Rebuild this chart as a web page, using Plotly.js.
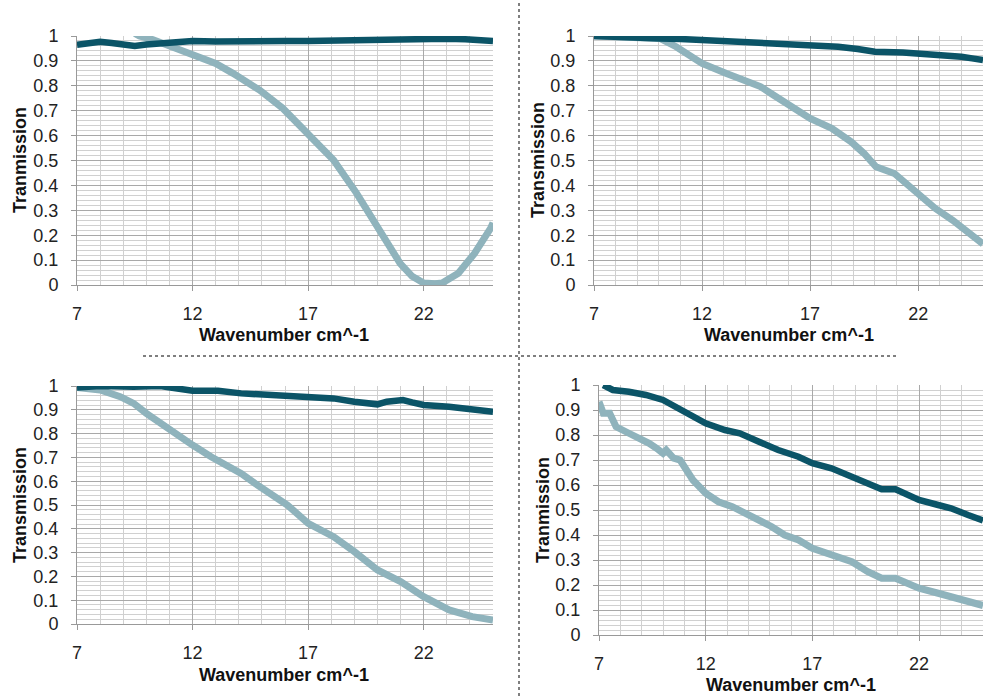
<!DOCTYPE html>
<html><head><meta charset="utf-8">
<script src="https://cdn.plot.ly/plotly-3.0.1.min.js"></script>
<style>html,body{margin:0;padding:0;background:#fff}#chart{width:983px;height:696px}</style>
</head><body><div id="chart"></div>
<script>
// Top-left panel
const tlDarkX = [7, 7.5, 8, 8.5, 9, 9.5, 10, 10.6, 11, 12, 13, 13.75, 15, 16, 17, 18, 19, 20, 21, 22, 22.4, 23, 23.8, 24.5, 25];
const tlDarkY = [0.965, 0.972, 0.977, 0.972, 0.965, 0.96, 0.966, 0.97, 0.972, 0.98, 0.978, 0.977, 0.98, 0.98, 0.98, 0.982, 0.98, 0.984, 0.99, 0.99, 0.99, 0.989, 0.987, 0.982, 0.98];
const tlLightX = [9.5, 9.7, 10.3, 10.9, 12, 13, 13.75, 14.9, 15.9, 17, 18.1, 19.1, 19.97, 20.98, 21.5, 22, 22.5, 22.8, 23.5, 24.2, 24.9, 25];
const tlLightY = [1.01, 1.0, 0.985, 0.964, 0.924, 0.89, 0.85, 0.783, 0.71, 0.602, 0.502, 0.368, 0.234, 0.087, 0.035, 0.008, 0.005, 0.008, 0.047, 0.127, 0.228, 0.25];
// Top-right panel
const trDarkX = [7, 8, 9, 10.05, 11, 12, 13, 14.3, 15.2, 15.9, 17, 18.3, 19.2, 20, 21.3, 22, 22.7, 23.3, 24, 24.5, 25];
const trDarkY = [1.0, 0.995, 0.99, 0.99, 0.988, 0.984, 0.98, 0.977, 0.973, 0.968, 0.96, 0.957, 0.948, 0.937, 0.934, 0.93, 0.927, 0.924, 0.917, 0.91, 0.903];
const trLightX = [7, 8, 9, 10.05, 10.8, 11.3, 12, 13.1, 14, 14.7, 15.3, 16.2, 17, 18, 18.9, 19.5, 20.05, 20.9, 22, 22.8, 23.6, 25];
const trLightY = [1.0, 0.995, 0.99, 0.99, 0.957, 0.93, 0.89, 0.85, 0.823, 0.797, 0.763, 0.716, 0.669, 0.629, 0.575, 0.528, 0.475, 0.448, 0.368, 0.307, 0.26, 0.165];
// Bottom-left panel
const blDarkX = [7, 8, 9.45, 10.6, 12, 13.1, 14.1, 15.2, 16.1, 17, 18.1, 19, 20, 20.4, 21.1, 21.5, 22, 23.1, 24.1, 25];
const blDarkY = [0.994, 1.0, 0.997, 1.0, 0.98, 0.98, 0.969, 0.962, 0.958, 0.955, 0.948, 0.934, 0.923, 0.934, 0.941, 0.931, 0.92, 0.913, 0.899, 0.892];
const blLightX = [7, 8, 8.87, 9.45, 10, 10.6, 10.9, 11.5, 12, 12.8, 13.5, 14.1, 14.7, 15.2, 16.1, 17, 18.1, 19, 20, 21, 22, 23.1, 24.1, 25];
const blLightY = [0.994, 0.983, 0.955, 0.927, 0.885, 0.843, 0.822, 0.787, 0.752, 0.703, 0.668, 0.633, 0.591, 0.556, 0.5, 0.423, 0.367, 0.304, 0.227, 0.178, 0.115, 0.059, 0.031, 0.017];
// Bottom-right panel
const brDarkX = [7.2, 7.65, 8.4, 9.2, 10, 10.6, 11.4, 12, 12.9, 13.6, 14.5, 15.4, 16.35, 17, 17.9, 18.85, 19.6, 20.25, 20.9, 21.3, 22, 22.9, 23.5, 24.3, 25];
const brDarkY = [1.0, 0.98, 0.973, 0.96, 0.94, 0.913, 0.88, 0.847, 0.82, 0.807, 0.773, 0.74, 0.713, 0.687, 0.667, 0.633, 0.6, 0.583, 0.583, 0.567, 0.54, 0.52, 0.507, 0.48, 0.458];
const brLightX = [7, 7.2, 7.5, 7.8, 8.4, 8.9, 9.35, 9.7, 10, 10.15, 10.5, 10.8, 11.1, 11.4, 12, 12.6, 13.25, 13.9, 14.5, 15.1, 15.7, 16.35, 17, 17.9, 18.85, 19.6, 20.25, 20.9, 21.3, 22, 22.9, 23.5, 24.3, 25];
const brLightY = [0.933, 0.887, 0.887, 0.833, 0.807, 0.787, 0.767, 0.747, 0.727, 0.74, 0.707, 0.7, 0.66, 0.62, 0.567, 0.533, 0.513, 0.487, 0.46, 0.433, 0.4, 0.38, 0.347, 0.32, 0.293, 0.253, 0.227, 0.227, 0.213, 0.187, 0.167, 0.153, 0.133, 0.118];

const xTickVals = [7, 12, 17, 22];
const yTitles = ['Tranmission', 'Transmission', 'Transmission', 'Tranmission'];
const xTitle = 'Wavenumber cm^-1';

const W = 983, H = 696;
const DARK = '#0b5467', LIGHT = '#8fb3bc';
const FONT = 'Liberation Sans, Arial, sans-serif';
// panel pixel boxes: [left, right, top, bottom]
const boxes = [[77, 493, 36, 285], [594, 983, 36, 285], [77, 493, 386, 624], [599, 983, 385, 635]];
const data = [];
const sets = [[tlLightX, tlLightY, tlDarkX, tlDarkY], [trLightX, trLightY, trDarkX, trDarkY], [blLightX, blLightY, blDarkX, blDarkY], [brLightX, brLightY, brDarkX, brDarkY]];
const layout = {
  width: W, height: H, margin: {l: 0, r: 0, t: 0, b: 0}, showlegend: false,
  paper_bgcolor: '#fff', plot_bgcolor: '#fff', font: {family: FONT, size: 18, color: '#222'},
  shapes: [], annotations: []
};
sets.forEach((s, i) => {
  const n = i === 0 ? '' : String(i + 1);
  data.push({x: s[0], y: s[1], xaxis: 'x' + n, yaxis: 'y' + n, mode: 'lines', line: {color: LIGHT, width: 7}, hoverinfo: 'skip'});
  data.push({x: s[2], y: s[3], xaxis: 'x' + n, yaxis: 'y' + n, mode: 'lines', line: {color: DARK, width: 6.5}, hoverinfo: 'skip'});
  const b = boxes[i];
  layout['xaxis' + n] = {
    domain: [b[0] / W, b[1] / W], anchor: 'y' + n, range: [7, 25], tickmode: 'array', tickvals: xTickVals,
    showgrid: true, gridcolor: '#a9a9a9', gridwidth: 1, zeroline: false,
    showline: true, linecolor: '#999', ticks: 'outside', ticklen: 5, tickcolor: '#999', ticklabelstandoff: 7,
    tickfont: {size: 18, color: '#222', family: FONT},
    minor: {dtick: 1, tick0: 7, showgrid: true, gridcolor: '#d0d0d0', gridwidth: 1}
  };
  layout['yaxis' + n] = {
    domain: [1 - b[3] / H, 1 - b[2] / H], anchor: 'x' + n, range: [0, 1], dtick: 0.1, tick0: 0,
    showgrid: true, gridcolor: '#a9a9a9', gridwidth: 1, zeroline: false,
    showline: true, linecolor: '#999', ticks: 'outside', ticklen: 5, tickcolor: '#999', ticklabelstandoff: 9,
    tickfont: {size: 18, color: '#222', family: FONT},
    minor: {dtick: 0.02, tick0: 0, showgrid: true, gridcolor: '#d0d0d0', gridwidth: 1}
  };
});
// axis titles
const xTitlePos = [[284, 335], [789, 335], [284, 675], [791, 685]];
const yTitlePos = [[20, 160], [538, 160], [20, 505], [543, 510]];
xTitlePos.forEach(p => layout.annotations.push({text: '<b>' + xTitle + '</b>', xref: 'paper', yref: 'paper', x: p[0] / W, y: 1 - p[1] / H, xanchor: 'center', yanchor: 'middle', showarrow: false, font: {size: 18, color: '#111', family: FONT}}));
yTitlePos.forEach((p, i) => layout.annotations.push({text: '<b>' + yTitles[i] + '</b>', xref: 'paper', yref: 'paper', x: p[0] / W, y: 1 - p[1] / H, xanchor: 'center', yanchor: 'middle', textangle: -90, showarrow: false, font: {size: 18, color: '#111', family: FONT}}));
// dotted separators
layout.shapes.push({type: 'line', xref: 'paper', yref: 'paper', x0: 519 / W, x1: 519 / W, y0: 0, y1: 1, line: {color: '#555', width: 1.5, dash: 'dot'}});
layout.shapes.push({type: 'line', xref: 'paper', yref: 'paper', x0: 143 / W, x1: 897 / W, y0: 1 - 356 / H, y1: 1 - 356 / H, line: {color: '#555', width: 1.5, dash: 'dot'}});
Plotly.newPlot('chart', data, layout, {staticPlot: true});
</script></body></html>
